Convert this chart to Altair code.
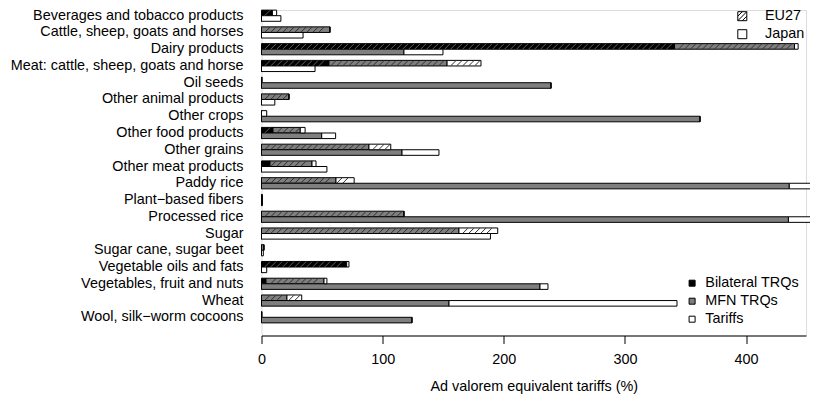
import altair as alt
import pandas as pd
import numpy as np

categories = [
    "Beverages and tobacco products", "Cattle, sheep, goats and horses", "Dairy products",
    "Meat: cattle, sheep, goats and horse", "Oil seeds", "Other animal products",
    "Other crops", "Other food products", "Other grains", "Other meat products",
    "Paddy rice", "Plant\u2212based fibers", "Processed rice", "Sugar",
    "Sugar cane, sugar beet", "Vegetable oils and fats", "Vegetables, fruit and nuts",
    "Wheat", "Wool, silk\u2212worm cocoons",
]
countries = ["EU27", "Japan"]
components = ["Bilateral TRQs", "MFN TRQs", "Tariffs"]

eu_bilateral = [9, 0, 341, 55.7, 0, 0, 0, 9.5, 0, 7, 0, 0, 0, 0, 0, 70.3, 3.7, 0, 0]
eu_mfn = [0, 56.5, 99, 97.5, 0, 22.7, 0, 22.5, 88.7, 34.7, 61.5, 0, 117.6, 163, 2, 0, 47.9, 21, 0]
eu_tariffs = [3.5, 0, 3, 28, 0.6, 0, 4.3, 4, 18, 3.3, 15, 0.8, 0, 32, 0, 1.9, 2.4, 12.2, 0.5]
jp_bilateral = [0] * 19
jp_mfn = [0, 0, 117.6, 0, 239, 0, 362, 49.7, 116, 0, 435.7, 0, 435, 0, 0, 0, 229.9, 154.8, 124.2]
jp_tariffs = [16, 34.3, 32.2, 44.2, 0, 11, 0, 11.5, 30.5, 54, 60, 0.8, 60, 189, 1.5, 4.3, 6.6, 188.2, 0]

x_ticks = [0, 100, 200, 300, 400]
x_max = 449.5

series = {
    "EU27": [eu_bilateral, eu_mfn, eu_tariffs],
    "Japan": [jp_bilateral, jp_mfn, jp_tariffs],
}

rows = []
for country in countries:
    for i, cat in enumerate(categories):
        start = 0.0
        for comp, vals in zip(components, series[country]):
            end = start + vals[i]
            rows.append(dict(Category=cat, Country=country, Component=comp,
                             start=start, end=end, order=components.index(comp)))
            start = end
bars_df = pd.DataFrame(rows)

# hatch texture for the EU27 bars
hatch_step = 4.95
hatch_half = 2.3
hatch_colors = {"Bilateral TRQs": "#606060", "MFN TRQs": "#303030", "Tariffs": "#303030"}
hrows = []
for r in rows:
    if r["Country"] != "EU27":
        continue
    k0 = int(np.ceil((r["start"] + hatch_half) / hatch_step))
    k1 = int(np.floor((r["end"] - hatch_half) / hatch_step))
    for k in range(k0, k1 + 1):
        hrows.append(dict(Category=r["Category"], Country="EU27", xc=k * hatch_step,
                          hcol=hatch_colors[r["Component"]]))
hatch_df = pd.DataFrame(hrows)

FONT = "Liberation Sans"
FS = 14.4

y_enc = alt.Y("Category:N", sort=categories, title=None,
              scale=alt.Scale(paddingInner=1/3, paddingOuter=0.3795, align=0.009, round=False),
              axis=alt.Axis(domain=False, ticks=False, tickSize=0, labelPadding=18.5,
                            labelFontSize=FS, labelFont=FONT, labelColor="black",
                            labelLimit=400))
yoff_enc = alt.YOffset("Country:N", sort=countries,
                       scale=alt.Scale(domain=countries, paddingInner=0, paddingOuter=0))
x_scale = alt.Scale(domain=[0, x_max], nice=False, zero=True)

bars = alt.Chart(bars_df).mark_bar(stroke="black", strokeWidth=1, opacity=1).encode(
    y=y_enc,
    yOffset=yoff_enc,
    x=alt.X("start:Q", scale=x_scale, title="Ad valorem equivalent tariffs (%)",
            axis=alt.Axis(values=x_ticks, format="d", grid=False, tickSize=8,
                          tickColor="black", domainColor="black", labelColor="black",
                          labelFontSize=FS, labelFont=FONT, labelFlush=False,
                          labelPadding=9, titleFontSize=FS, titleFont=FONT,
                          titleFontWeight="normal", titleColor="black", titlePadding=14)),
    x2="end:Q",
    fill=alt.Fill("Component:N", sort=components,
                  scale=alt.Scale(domain=components, range=["#000000", "#7f7f7f", "#ffffff"]),
                  legend=alt.Legend(orient="none", legendX=423.4, legendY=266, title=None,
                                    direction="vertical", symbolType="square", symbolSize=36,
                                    symbolStrokeColor="black", symbolStrokeWidth=1,
                                    labelFontSize=FS, labelFont=FONT, labelColor="black",
                                    labelOffset=6, rowPadding=3, padding=0)),
    order=alt.Order("order:Q"),
)

hatch = alt.Chart(hatch_df).mark_point(
    shape="M-1,1L1,-1", filled=False, strokeWidth=1, size=26, opacity=1
).encode(
    y=alt.Y("Category:N", sort=categories),
    yOffset=alt.YOffset("Country:N", sort=countries),
    x=alt.X("xc:Q", scale=x_scale),
    stroke=alt.Stroke("hcol:N", scale=None),
)

hatched_square = "M-1,-1H1V1H-1Z M-1,0L0,-1 M-1,1L1,-1 M0,1L1,0"
country_key = alt.Chart(bars_df).mark_point(filled=False, opacity=0, color="black").encode(
    shape=alt.Shape("Country:N", sort=countries,
                    scale=alt.Scale(domain=countries, range=[hatched_square, "square"]),
                    legend=alt.Legend(orient="none", legendX=473.6, legendY=-1, title=None,
                                      direction="vertical", symbolSize=81, symbolOpacity=1,
                                      symbolStrokeColor="black", symbolStrokeWidth=1,
                                      symbolFillColor="white",
                                      labelFontSize=FS, labelFont=FONT, labelColor="black",
                                      labelOffset=15.5, rowPadding=3, padding=0)),
)

chart = alt.layer(bars, hatch, country_key).properties(
    width=544.5, height=325.5,
    autosize=alt.AutoSizeParams(type="none"),
    padding={"left": 253.5, "top": 2, "right": 4, "bottom": 60},
    background="white",
).configure_view(stroke=None).configure(font=FONT)

chart.save("out.html", embed_options={"renderer": "svg", "actions": False})
